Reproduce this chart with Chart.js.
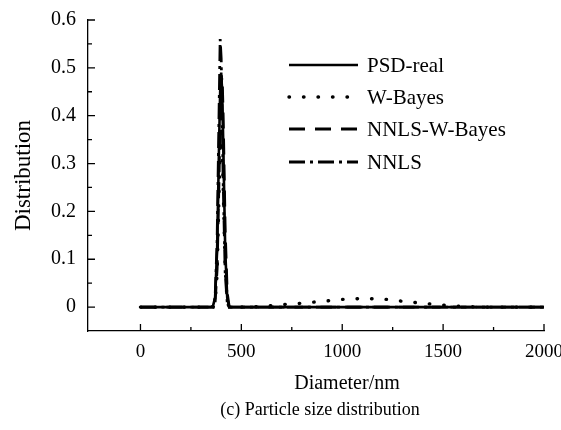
<!DOCTYPE html>
<html>
<head>
<meta charset="utf-8">
<script src="https://cdn.jsdelivr.net/npm/chart.js@4.4.0/dist/chart.umd.min.js"></script>
<style>
  html, body { margin: 0; padding: 0; background: #fff; }
  #wrap { width: 561px; height: 430px; }
</style>
</head>
<body>
<div id="wrap"><canvas id="psdChart"></canvas></div>
<script>
// sampled diameters (nm)
const diameters = [0, 100, 200, 300, 340, 350, 360, 370, 380, 390, 395, 400, 405, 410, 420, 430, 440,
  500, 600, 700, 800, 900, 1000, 1100, 1200, 1300, 1400, 1500, 1600, 1700, 1800, 1900, 2000];

// distributions at each diameter
const psdReal = [0, 0, 0, 0, 0, 0, 0.003, 0.02, 0.12, 0.35, 0.45, 0.49, 0.45, 0.35, 0.12, 0.02, 0,
  0, 0, 0, 0, 0, 0, 0, 0, 0, 0, 0, 0, 0, 0, 0, 0];
const wBayes = [0, 0, 0, 0, 0, 0, 0, 0.01, 0.07, 0.25, 0.34, 0.38, 0.34, 0.25, 0.08, 0.01, 0,
  0, 0.001, 0.005, 0.008, 0.012, 0.016, 0.018, 0.017, 0.012, 0.008, 0.004, 0.001, 0, 0, 0, 0];
const nnlsWBayes = [0, 0, 0, 0, 0, 0, 0, 0.01, 0.08, 0.28, 0.40, 0.47, 0.48, 0.40, 0.16, 0.03, 0,
  0, 0, 0, 0, 0, 0, 0, 0, 0, 0, 0, 0, 0, 0, 0, 0];
const nnls = [0, 0, 0, 0, 0, 0, 0, 0.02, 0.14, 0.42, 0.56, 0.52, 0.40, 0.26, 0.07, 0.01, 0,
  0, 0, 0, 0, 0, 0, 0, 0, 0, 0, 0, 0, 0, 0, 0, 0];

const seriesNames = ['PSD-real', 'W-Bayes', 'NNLS-W-Bayes', 'NNLS'];

const xTicks = [0, 500, 1000, 1500, 2000];
const xMinor = [250, 750, 1250, 1750];
const yTicks = [0, 0.1, 0.2, 0.3, 0.4, 0.5, 0.6];
const yMinor = [0.05, 0.15, 0.25, 0.35, 0.45, 0.55];

const FONT = '"Liberation Serif", "Times New Roman", serif';

const pts = vals => diameters.map((d, i) => ({ x: d, y: vals[i] }));

// tick marks point into the plot, plus axis captions
const axisDecor = {
  id: 'axisDecor',
  afterDraw(chart) {
    const { ctx, chartArea: a, scales: { x, y } } = chart;
    ctx.save();
    ctx.strokeStyle = '#000';
    ctx.lineWidth = 1.3;
    ctx.beginPath();
    xTicks.forEach(v => { const p = x.getPixelForValue(v); ctx.moveTo(p, a.bottom); ctx.lineTo(p, a.bottom - 7); });
    xMinor.forEach(v => { const p = x.getPixelForValue(v); ctx.moveTo(p, a.bottom); ctx.lineTo(p, a.bottom - 4); });
    yTicks.forEach(v => { const p = y.getPixelForValue(v); ctx.moveTo(a.left, p); ctx.lineTo(a.left + 7, p); });
    yMinor.forEach(v => { const p = y.getPixelForValue(v); ctx.moveTo(a.left, p); ctx.lineTo(a.left + 4, p); });
    ctx.stroke();

    ctx.fillStyle = '#000';
    ctx.textAlign = 'center';
    ctx.textBaseline = 'middle';
    ctx.font = '20px ' + FONT;
    ctx.fillText('Diameter/nm', 347, 384);
    ctx.font = '18px ' + FONT;
    ctx.fillText('(c) Particle size distribution', 320, 410);
    ctx.restore();
  }
};

// legend box inside the plot
const insideLegend = {
  id: 'insideLegend',
  afterDraw(chart) {
    const { ctx } = chart;
    const rows = [65, 97, 129, 162];
    ctx.save();
    chart.data.datasets.forEach((ds, i) => {
      const yy = rows[i];
      ctx.strokeStyle = '#000';
      ctx.lineWidth = ds.borderWidth;
      ctx.lineCap = ds.borderCapStyle || 'butt';
      ctx.setLineDash(ds.borderDash || []);
      ctx.beginPath();
      ctx.moveTo(289, yy);
      ctx.lineTo(358, yy);
      ctx.stroke();
      ctx.setLineDash([]);
      ctx.fillStyle = '#000';
      ctx.font = '21px ' + FONT;
      ctx.textAlign = 'left';
      ctx.textBaseline = 'middle';
      ctx.fillText(ds.label, 367, yy + 1);
    });
    ctx.restore();
  }
};

new Chart(document.getElementById('psdChart'), {
  type: 'line',
  data: {
    datasets: [
      { label: seriesNames[0], data: pts(psdReal), borderColor: '#000', borderWidth: 2.6 },
      { label: seriesNames[1], data: pts(wBayes), borderColor: '#000', borderWidth: 3.4,
        borderDash: [0.5, 14], borderCapStyle: 'round' },
      { label: seriesNames[2], data: pts(nnlsWBayes), borderColor: '#000', borderWidth: 2.8,
        borderDash: [16, 10] },
      { label: seriesNames[3], data: pts(nnls), borderColor: '#000', borderWidth: 2.8,
        borderDash: [16, 5, 3, 5] }
    ]
  },
  options: {
    responsive: true,
    maintainAspectRatio: false,
    animation: false,
    layout: { padding: { top: 20, right: 17, left: 0, bottom: 0 } },
    elements: { point: { radius: 0 }, line: { tension: 0 } },
    plugins: { legend: { display: false }, tooltip: { enabled: false } },
    scales: {
      x: {
        type: 'linear',
        min: -260,
        max: 2000,
        grid: { display: false, drawTicks: false },
        border: { display: true, color: '#000', width: 1.3 },
        ticks: { color: '#000', padding: 10, font: { family: FONT, size: 19 }, maxRotation: 0,
          callback: v => String(v) },
        afterBuildTicks: s => { s.ticks = xTicks.map(v => ({ value: v })); },
        afterFit: s => { s.height = 99; s.paddingLeft = 0; s.paddingRight = 0; }
      },
      y: {
        min: -0.05,
        max: 0.6,
        grid: { display: false, drawTicks: false },
        border: { display: true, color: '#000', width: 1.3 },
        ticks: { color: '#000', padding: 12, font: { family: FONT, size: 20 }, callback: v => String(v) },
        afterBuildTicks: s => { s.ticks = yTicks.map(v => ({ value: v })); },
        afterFit: s => { s.width = 88; s.paddingTop = 0; s.paddingBottom = 0; },
        title: { display: true, text: 'Distribution', color: '#000', padding: { top: 10, bottom: 0 },
          font: { family: FONT, size: 23 } }
      }
    }
  },
  plugins: [axisDecor, insideLegend]
});
</script>
</body>
</html>
